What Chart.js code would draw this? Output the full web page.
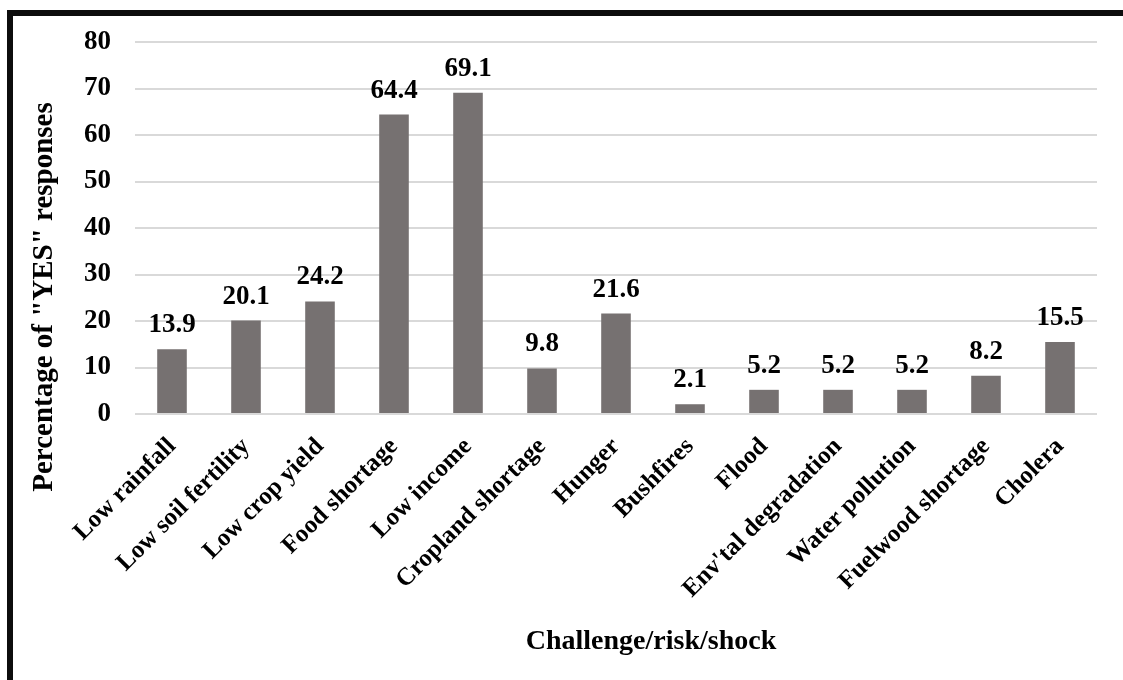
<!DOCTYPE html>
<html>
<head>
<meta charset="utf-8">
<script src="https://cdn.jsdelivr.net/npm/chart.js@4.4.1/dist/chart.umd.min.js"></script>
<style>
  html, body { margin: 0; padding: 0; background: #fff; }
  #wrap { position: relative; width: 1123px; height: 680px; overflow: hidden; }
  #frame { position: absolute; left: 7px; top: 10px; right: -10px; bottom: -10px;
           border-top: 6px solid #0d0d0d; border-left: 6px solid #0d0d0d; }
  canvas { position: absolute; left: 0; top: 0; }
</style>
</head>
<body>
<div id="wrap">
  <canvas id="chart" width="1123" height="680"></canvas>
  <div id="frame"></div>
</div>
<script>
const categories = ['Low rainfall', 'Low soil fertility', 'Low crop yield', 'Food shortage',
  'Low income', 'Cropland shortage', 'Hunger', 'Bushfires', 'Flood',
  "Env'tal degradation", 'Water pollution', 'Fuelwood shortage', 'Cholera'];
const yesPercent = [13.9, 20.1, 24.2, 64.4, 69.1, 9.8, 21.6, 2.1, 5.2, 5.2, 5.2, 8.2, 15.5];
const yTicks = [0, 10, 20, 30, 40, 50, 60, 70, 80];
const xTitle = 'Challenge/risk/shock';
const yTitle = 'Percentage of "YES" responses';

const serif = '"Liberation Serif", "Times New Roman", serif';

// value above each bar, plus the two axis titles (centred on the whole plot, like Excel)
const annotate = {
  id: 'annotate',
  afterDatasetsDraw(chart) {
    const ctx = chart.ctx;
    const meta = chart.getDatasetMeta(0);
    ctx.save();
    ctx.fillStyle = '#000';
    ctx.font = 'bold 27px ' + serif;
    ctx.textAlign = 'center';
    ctx.textBaseline = 'alphabetic';
    meta.data.forEach((bar, i) => {
      ctx.fillText(yesPercent[i].toFixed(1), bar.x, bar.y - 17);
    });

    ctx.textBaseline = 'middle';
    ctx.font = 'bold 28px ' + serif;
    ctx.fillText(xTitle, 651, 642);

    ctx.translate(45, 297);
    ctx.rotate(-Math.PI / 2);
    ctx.font = 'bold 29px ' + serif;
    ctx.fillText(yTitle, 0, 0);
    ctx.restore();
  }
};

new Chart(document.getElementById('chart'), {
  type: 'bar',
  data: {
    labels: categories,
    datasets: [{
      data: yesPercent,
      backgroundColor: '#767171',
      barPercentage: 0.4,
      categoryPercentage: 1
    }]
  },
  options: {
    responsive: false,
    animation: false,
    layout: { padding: { left: 24, right: 26, top: 42, bottom: 16 } },
    plugins: { legend: { display: false }, tooltip: { enabled: false } },
    scales: {
      x: {
        grid: { display: false },
        border: { display: false },
        ticks: {
          minRotation: 45, maxRotation: 45, autoSkip: false,
          color: '#000', padding: 10,
          font: { family: serif, size: 25, weight: 'bold' }
        },
        afterFit(scale) { scale.height = 250; }
      },
      y: {
        min: 0, max: 80,
        afterBuildTicks(scale) { scale.ticks = yTicks.map(v => ({ value: v })); },
        grid: { color: '#d9d9d9', lineWidth: 2, drawTicks: false },
        border: { display: false },
        ticks: {
          color: '#000', padding: 24,
          font: { family: serif, size: 27, weight: 'bold' }
        },
        afterFit(scale) { scale.width = 111; }
      }
    }
  },
  plugins: [annotate]
});
</script>
</body>
</html>
